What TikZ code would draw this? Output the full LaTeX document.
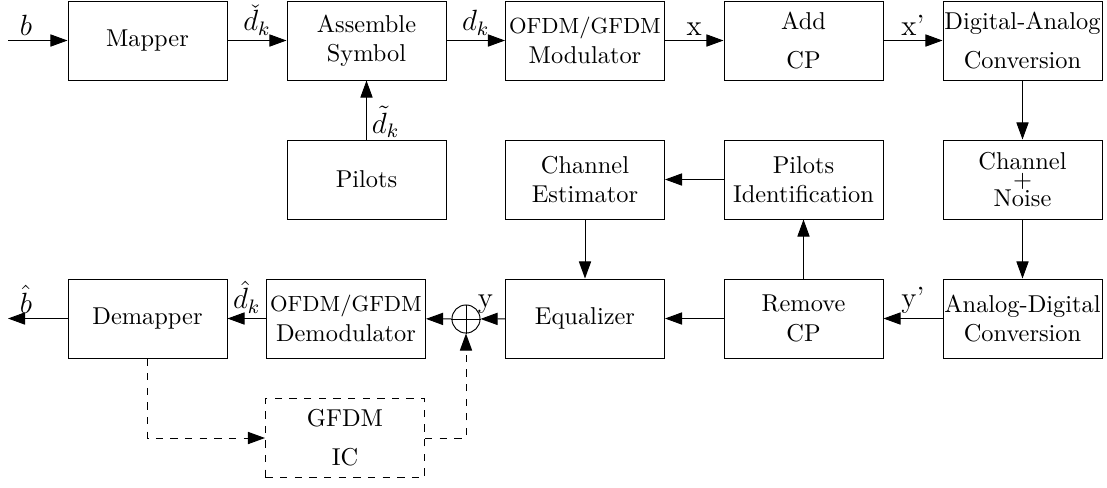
\documentclass[tikz,border=0pt]{standalone}
\usetikzlibrary{arrows.meta}
\begin{document}
\begin{tikzpicture}[x=0.41pt, y=-0.41pt, >={Triangle[length=7pt, width=5pt]}]
	\tikzstyle{block}  = [rectangle, draw=black, fill=white, minimum width=65.2pt, minimum height=32.4pt, inner sep=0pt, align=center]
	\tikzstyle{icblock} = [block, dashed]
	\tikzstyle{adder}  = [circle, draw=black, minimum size=11.5pt, inner sep=0pt]
	\tikzstyle{lbl}    = [inner sep=2pt, font=\large]

	\useasboundingbox (0, 0) rectangle (1107, 487);

	\foreach \name/\x/\y/\txt in {mapper/147.5/40.5/{Mapper}, assemble/366.5/40.5/{Assemble\\Symbol},
			modulator/585/40.5/{{\small OFDM/GFDM}\\Modulator}, addcp/803.5/40.5/{Add\\[4pt]CP},
			digana/1022.5/40.5/{Digital-Analog\\[4pt]Conversion},
			pilots/366.5/179.5/{Pilots}, chest/585/179.5/{Channel\\Estimator},
			pilotsid/803.5/179.5/{Pilots\\Identification}, channel/1022.5/179.5/{Channel\\[-4.5pt]+\\[-4.5pt]Noise},
			demapper/147.5/318.5/{Demapper}, demod/346/318.5/{{\small OFDM/GFDM}\\Demodulator},
			equalizer/585/318.5/{Equalizer}, removecp/803.5/318.5/{Remove\\CP},
			anadig/1022.5/318.5/{Analog-Digital\\Conversion}}
		\node[block] (\name) at (\x, \y) {\txt};

	\node[icblock] (gfdmic) at (345, 438) {GFDM\\[4pt]IC};
	\node[adder] (sum) at (466, 319) {};
	\draw (sum.north) -- (sum.south) (sum.west) -- (sum.east);

	\coordinate (in) at (8, 40.5);
	\coordinate (out) at (8, 318.5);

	\path[->] (in) edge node[lbl, above, pos=0.3] {$b$} (mapper);
	\path[->] (demapper) edge node[lbl, above, pos=0.7] {$\hat{b}$} (out);

	\foreach \from/\to/\txt in {mapper/assemble/{$\check{d}_k$}, assemble/modulator/{$d_k$}, modulator/addcp/x,
			addcp/digana/{x'}, anadig/removecp/{y'}, demod/demapper/{$\hat{d}_k$}}
		\path[->] (\from) edge node[lbl, above] {\txt} (\to);

	\foreach \from/\to in {digana/channel, channel/anadig, removecp/pilotsid, pilotsid/chest,
			chest/equalizer, removecp/equalizer, sum/demod}
		\path[->] (\from) edge (\to);

	\path[->] (pilots) edge node[lbl, right, pos=0.3] {$\tilde{d}_k$} (assemble);
	\path[->] (equalizer) edge node[lbl, above, pos=0.8] {y} (sum);

	\draw[->, dashed] (demapper.south) |- (gfdmic.west);
	\draw[->, dashed] (gfdmic.east) -| (sum.south);
\end{tikzpicture}
\end{document}
